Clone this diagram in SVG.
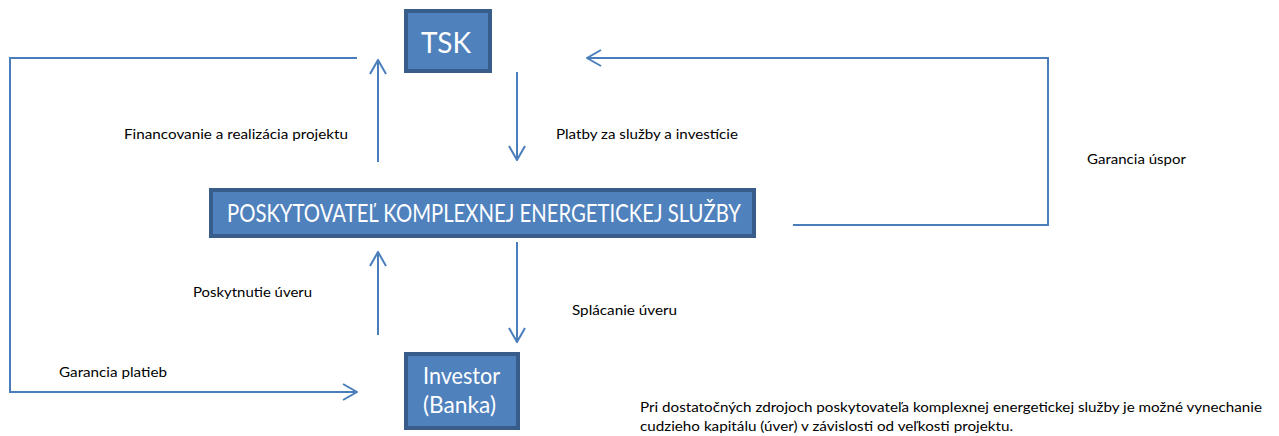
<svg xmlns="http://www.w3.org/2000/svg" width="1279" height="436" viewBox="0 0 1279 436">
<style>
.box{fill:#4f81bd;stroke:#385d8a;stroke-width:4}
.bt{font-family:Lato,"Liberation Sans",sans-serif;fill:#ffffff}
.lbl{font-family:Lato,"Liberation Sans",sans-serif;font-size:14px;fill:#000000}
.ln{fill:none;stroke:#4a7ebb;stroke-width:2}
</style>
<defs>
<marker id="ah" viewBox="0 0 16 18" refX="15" refY="9" markerWidth="16" markerHeight="18" markerUnits="userSpaceOnUse" orient="auto">
<path d="M1,1 L15,9 L1,17" fill="none" stroke="#4a7ebb" stroke-width="2"/>
</marker>
</defs>
<rect width="1279" height="436" fill="#ffffff"/>
<g id="connectors">
<polyline class="ln" points="357,58 10,58 10,392 357,392" marker-end="url(#ah)"/>
<line class="ln" x1="378" y1="162" x2="378" y2="60" marker-end="url(#ah)"/>
<line class="ln" x1="517" y1="72" x2="517" y2="160" marker-end="url(#ah)"/>
<line class="ln" x1="378" y1="335" x2="378" y2="252" marker-end="url(#ah)"/>
<line class="ln" x1="517" y1="242" x2="517" y2="342" marker-end="url(#ah)"/>
<polyline class="ln" points="793,225 1048,225 1048,58 587,58" marker-end="url(#ah)"/>
</g>
<g id="labels">
<text class="lbl" x="124" y="139" textLength="224" lengthAdjust="spacingAndGlyphs">Financovanie a realizácia projektu</text>
<text class="lbl" x="556" y="139" textLength="182" lengthAdjust="spacingAndGlyphs">Platby za služby a investície</text>
<text class="lbl" x="1087" y="164" textLength="99" lengthAdjust="spacingAndGlyphs">Garancia úspor</text>
<text class="lbl" x="193" y="297" textLength="119" lengthAdjust="spacingAndGlyphs">Poskytnutie úveru</text>
<text class="lbl" x="572" y="315" textLength="105" lengthAdjust="spacingAndGlyphs">Splácanie úveru</text>
<text class="lbl" x="59" y="377" textLength="108" lengthAdjust="spacingAndGlyphs">Garancia platieb</text>
<text class="lbl" x="640" y="412" textLength="622" lengthAdjust="spacingAndGlyphs">Pri dostatočných zdrojoch poskytovateľa komplexnej energetickej služby je možné vynechanie</text>
<text class="lbl" x="640" y="431" textLength="373" lengthAdjust="spacingAndGlyphs">cudzieho kapitálu (úver) v závislosti od veľkosti projektu.</text>
</g>
<g id="tsk">
<rect class="box" x="406" y="11" width="84" height="60"/>
<text class="bt" x="446" y="53" font-size="28" text-anchor="middle">TSK</text>
</g>
<g id="poskytovatel">
<rect class="box" x="211" y="190" width="543" height="46"/>
<text class="bt" x="227" y="222" font-size="25" textLength="514" lengthAdjust="spacingAndGlyphs">POSKYTOVATEĽ KOMPLEXNEJ ENERGETICKEJ SLUŽBY</text>
</g>
<g id="investor">
<rect class="box" x="406" y="354" width="112" height="74"/>
<text class="bt" x="423" y="384" font-size="24" textLength="77" lengthAdjust="spacingAndGlyphs">Investor</text>
<text class="bt" x="423" y="413" font-size="24" textLength="73" lengthAdjust="spacingAndGlyphs">(Banka)</text>
</g>
</svg>
